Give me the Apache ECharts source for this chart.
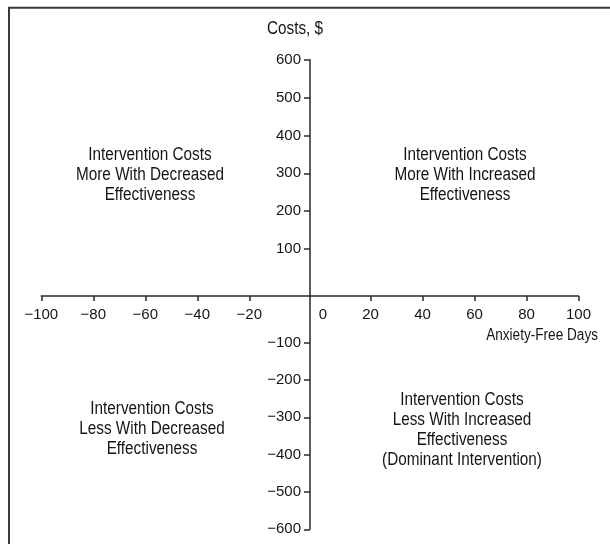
<!DOCTYPE html>
<html>
<head>
<meta charset="utf-8">
<script src="https://cdn.jsdelivr.net/npm/echarts@6/dist/echarts.min.js"></script>
<style>
html,body{margin:0;padding:0;background:#fff;}
#chart{width:610px;height:544px;}
</style>
</head>
<body>
<div id="chart"></div>
<script>
// Tick values (axis pieces either side of the origin)
const xTicksLeft = [-100, -80, -60, -40, -20];
const xTicksRight = [20, 40, 60, 80, 100];
const xLabelsRight = [0, 20, 40, 60, 80, 100];
const yTicksTop = [100, 200, 300, 400, 500, 600];
const yTicksBottom = [-600, -500, -400, -300, -200, -100];
const xAxisName = 'Anxiety-Free Days';
const yAxisName = 'Costs, $';
const quadrantLabels = [
  'Intervention Costs\nMore With Decreased\nEffectiveness',
  'Intervention Costs\nMore With Increased\nEffectiveness',
  'Intervention Costs\nLess With Decreased\nEffectiveness',
  'Intervention Costs\nLess With Increased\nEffectiveness\n(Dominant Intervention)'
];

const FONT = '"Liberation Sans", Arial, sans-serif';
const INK = '#151515';
const LINE = '#2a2a2a';

const fmt = v => v < 0 ? '\u2212' + Math.abs(v) : String(v);

const lineStyle = { color: LINE, width: 1.5 };
const hiddenAxis = (gi) => ({ gridIndex: gi, type: 'value', show: false, min: 0, max: 1 });

const chart = echarts.init(document.getElementById('chart'), null, { renderer: 'canvas' });

const labelBase = { color: INK, fontFamily: FONT, fontSize: 15 };

// condensed text helper (scaled horizontally to mimic a narrow face)
const condensed = (text, x, y, size, align, vAlign, lh) => ({
  type: 'text', silent: true, x: x, y: y, scaleX: 0.85,
  style: {
    text: text, fill: INK, fontFamily: FONT, fontSize: size, lineHeight: lh || size,
    align: align, verticalAlign: vAlign
  }
});

const option = {
  backgroundColor: '#fff',
  animation: false,
  grid: [
    { left: 41.3, top: 250, width: 268.7, height: 46 },   // left half of x axis
    { left: 310, top: 250, width: 268.5, height: 46 },    // right half of x axis
    { left: 310, top: 59.7, width: 100, height: 236.3 },  // upper half of y axis
    { left: 310, top: 296, width: 100, height: 233.3 }    // lower half of y axis
  ],
  xAxis: [
    {
      gridIndex: 0, type: 'value', position: 'bottom', min: -100, max: 3.35,
      axisLine: { show: true, onZero: false, lineStyle },
      axisTick: { show: true, inside: false, length: 5, lineStyle, customValues: xTicksLeft },
      axisLabel: Object.assign({ margin: 11, formatter: fmt, customValues: xTicksLeft }, labelBase),
      splitLine: { show: false }
    },
    {
      gridIndex: 1, type: 'value', position: 'bottom', min: -3.27, max: 100,
      axisLine: { show: true, onZero: false, lineStyle },
      axisTick: { show: true, inside: false, length: 5, lineStyle, customValues: xTicksRight },
      axisLabel: Object.assign({
        margin: 11,
        customValues: xLabelsRight,
        formatter: v => v === 0 ? '{z|0}' : fmt(v),
        rich: { z: { color: INK, fontFamily: FONT, fontSize: 15, padding: [0, 0, 0, 9] } }
      }, labelBase),
      splitLine: { show: false }
    },
    hiddenAxis(2),
    hiddenAxis(3)
  ],
  yAxis: [
    hiddenAxis(0),
    hiddenAxis(1),
    {
      gridIndex: 2, type: 'value', position: 'left', min: -24, max: 600,
      axisLine: { show: true, onZero: false, lineStyle },
      axisTick: { show: true, inside: false, length: 6, lineStyle, customValues: yTicksTop },
      axisLabel: Object.assign({ margin: 9, formatter: fmt, customValues: yTicksTop }, labelBase),
      splitLine: { show: false }
    },
    {
      gridIndex: 3, type: 'value', position: 'left', min: -600, max: 25.2,
      axisLine: { show: true, onZero: false, lineStyle },
      axisTick: { show: true, inside: false, length: 6, lineStyle, customValues: yTicksBottom },
      axisLabel: Object.assign({ margin: 9, formatter: fmt, customValues: yTicksBottom }, labelBase),
      splitLine: { show: false }
    }
  ],
  series: [],
  graphic: [
    {
      type: 'rect', z: -1, silent: true,
      shape: { x: 9, y: 7.8, width: 900, height: 900 },
      style: { fill: 'none', stroke: '#3a3a3a', lineWidth: 2 }
    },
    condensed(yAxisName, 295, 29, 18, 'center', 'middle'),
    condensed(xAxisName, 598, 336, 16, 'right', 'middle')
  ].concat(quadrantLabels.map((t, i) => {
    const pos = [[150, 175], [465, 175], [152, 429], [462, 430]][i];
    return condensed(t, pos[0], pos[1], 18, 'center', 'middle', 19.7);
  }))
};

chart.setOption(option);
</script>
</body>
</html>
